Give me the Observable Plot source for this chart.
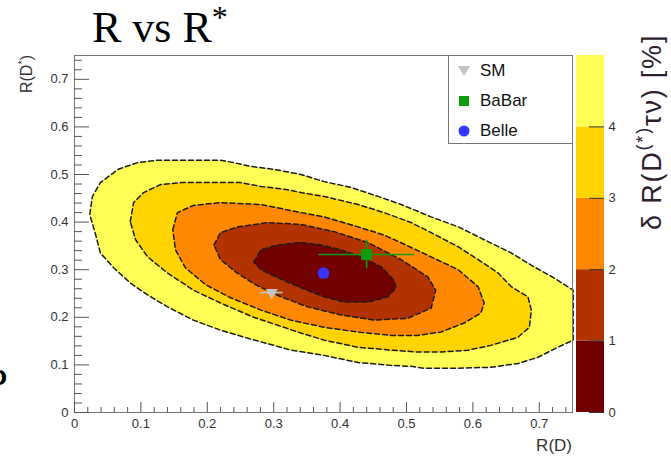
<!DOCTYPE html>
<html><head><meta charset="utf-8">
<script src="https://cdn.jsdelivr.net/npm/d3@7"></script>
<script src="https://cdn.jsdelivr.net/npm/@observablehq/plot@0.6"></script>
<style>
body{margin:0;background:#fff;}
#wrap{position:relative;width:671px;height:457px;overflow:hidden;font-family:"Liberation Sans",Arial,sans-serif;}
#cb{position:absolute;left:574px;top:0;}
#legend{position:absolute;left:448px;top:55px;width:123px;height:87px;border:1px solid #777;background:#fff;font-size:17px;color:#111;}
.row{position:absolute;left:0;height:20px;line-height:20px;}
.row svg{position:absolute;left:8px;top:3px;}
.row span{position:absolute;left:31px;top:0;}
</style></head>
<body><div id="wrap"></div>
<script>
// contour boundaries (R(D), R(D*)), outermost first
const contourL5 = [[0.023,0.416],[0.027,0.454],[0.039,0.483],[0.066,0.511],[0.095,0.525],[0.125,0.530],[0.220,0.530],[0.240,0.525],[0.265,0.517],[0.300,0.511],[0.341,0.500],[0.376,0.485],[0.416,0.473],[0.457,0.454],[0.492,0.437],[0.537,0.411],[0.578,0.390],[0.617,0.363],[0.658,0.335],[0.692,0.306],[0.722,0.283],[0.751,0.257],[0.751,0.152],[0.728,0.137],[0.698,0.116],[0.668,0.103],[0.627,0.095],[0.578,0.093],[0.526,0.093],[0.507,0.097],[0.477,0.099],[0.427,0.105],[0.376,0.120],[0.326,0.131],[0.300,0.141],[0.261,0.156],[0.220,0.173],[0.179,0.194],[0.140,0.222],[0.110,0.247],[0.084,0.272],[0.059,0.304],[0.039,0.335],[0.032,0.373]];
const contourL4 = [[0.084,0.401],[0.089,0.441],[0.104,0.462],[0.130,0.479],[0.160,0.483],[0.250,0.483],[0.281,0.475],[0.321,0.468],[0.341,0.462],[0.376,0.454],[0.427,0.437],[0.466,0.420],[0.507,0.399],[0.537,0.378],[0.578,0.348],[0.608,0.321],[0.638,0.293],[0.658,0.264],[0.683,0.243],[0.688,0.215],[0.685,0.179],[0.668,0.158],[0.627,0.141],[0.593,0.131],[0.552,0.127],[0.517,0.127],[0.477,0.131],[0.427,0.137],[0.376,0.152],[0.341,0.167],[0.270,0.200],[0.220,0.230],[0.179,0.257],[0.140,0.293],[0.110,0.327],[0.092,0.363]];
const contourL3 = [[0.148,0.384],[0.155,0.420],[0.179,0.435],[0.220,0.441],[0.281,0.437],[0.341,0.420],[0.376,0.411],[0.427,0.390],[0.466,0.373],[0.499,0.352],[0.537,0.327],[0.578,0.300],[0.608,0.264],[0.617,0.230],[0.612,0.209],[0.587,0.188],[0.552,0.169],[0.517,0.162],[0.477,0.162],[0.427,0.169],[0.376,0.179],[0.326,0.194],[0.281,0.215],[0.235,0.241],[0.198,0.268],[0.167,0.304],[0.152,0.342]];
const contourL2 = [[0.210,0.352],[0.220,0.378],[0.246,0.390],[0.291,0.399],[0.341,0.395],[0.391,0.380],[0.442,0.357],[0.492,0.321],[0.532,0.285],[0.544,0.257],[0.537,0.219],[0.502,0.198],[0.451,0.194],[0.401,0.205],[0.351,0.222],[0.311,0.243],[0.273,0.268],[0.243,0.295],[0.220,0.321]];
const contourL1 = [[0.270,0.316],[0.281,0.342],[0.306,0.352],[0.341,0.357],[0.371,0.352],[0.401,0.342],[0.431,0.327],[0.462,0.306],[0.481,0.278],[0.484,0.262],[0.472,0.243],[0.442,0.232],[0.406,0.232],[0.376,0.243],[0.341,0.262],[0.306,0.283],[0.281,0.300]];
const contourFills = ["#ffff55","#ffd400","#ff8800","#b33300","#730000"];

// measurements
const experiments = ["SM","BaBar","Belle"];
const rD = [0.297, 0.440, 0.375];
const rDstar = [0.252, 0.332, 0.293];
const rDerr = [0.017, 0.072, 0];
const rDstarErr = [0, 0.030, 0];
const expColors = ["#c4c4c4","#109a10","#3535ff"];

// axes
const xMajor = [0,0.1,0.2,0.3,0.4,0.5,0.6,0.7];
const xMinor = [0.02,0.04,0.06,0.08,0.12,0.14,0.16,0.18,0.22,0.24,0.26,0.28,0.32,0.34,0.36,0.38,0.42,0.44,0.46,0.48,0.52,0.54,0.56,0.58,0.62,0.64,0.66,0.68,0.72,0.74];
const yMajor = [0,0.1,0.2,0.3,0.4,0.5,0.6,0.7];
const yMinor = xMinor;

// color bar
const cbLow = [0,1,2,3,4];
const cbHigh = [1,2,3,4,5];
const cbColors = ["#730000","#b33300","#ff8800","#ffd400","#ffff55"];
const cbTicks = [0,1,2,3,4];

const contours = [contourL5, contourL4, contourL3, contourL2, contourL1];
const pts = experiments.map((e,i)=>({name:e, x:rD[i], y:rDstar[i], xe:rDerr[i], ye:rDstarErr[i], c:expColors[i]}));

const main = Plot.plot({
  width: 671, height: 457,
  marginLeft: 74, marginRight: 99, marginTop: 55, marginBottom: 45,
  x: {domain:[0,0.75], label:null}, y: {domain:[0,0.75], label:null},
  style: {fontFamily:'"Liberation Sans", Arial, sans-serif', fontSize:"13px", color:"#333", background:"transparent"},
  marks: [
    ...contours.map((c,i)=>Plot.line(c, {x:d=>d[0], y:d=>d[1], curve:"linear-closed", fill:contourFills[i], stroke:"#1c1c1c", strokeWidth:1.5, strokeDasharray:"5,3"})),
    Plot.frame({stroke:"#777"}),
    Plot.ruleX(xMajor, {x:d=>d, y1:0, y2:0, insetBottom:10, stroke:"#555"}),
    Plot.ruleX(xMinor, {x:d=>d, y1:0, y2:0, insetBottom:5, stroke:"#555"}),
    Plot.ruleY(yMajor, {y:d=>d, x1:0, x2:0, insetRight:-15, stroke:"#555"}),
    Plot.ruleY(yMinor, {y:d=>d, x1:0, x2:0, insetRight:-8, stroke:"#555"}),
    Plot.axisX({ticks:xMajor, tickSize:0, tickPadding:6, tickFormat:d=>String(d), fill:"#333", label:null}),
    Plot.axisY({ticks:yMajor, tickSize:0, tickPadding:6, tickFormat:d=>String(d), fill:"#333", label:null}),
    Plot.ruleY(pts.filter(d=>d.xe>0), {y:"y", x1:d=>d.x-d.xe, x2:d=>d.x+d.xe, stroke:"c", strokeWidth:1.6}),
    Plot.ruleX(pts.filter(d=>d.ye>0), {x:"x", y1:d=>d.y-d.ye, y2:d=>d.y+d.ye, stroke:"c", strokeWidth:1.6}),
    Plot.dot(pts.filter(d=>d.name==="SM"), {x:"x", y:"y", symbol:"triangle", rotate:180, r:4.5, fill:"c"}),
    Plot.dot(pts.filter(d=>d.name==="BaBar"), {x:"x", y:"y", symbol:"square", r:6.2, fill:"c"}),
    Plot.dot(pts.filter(d=>d.name==="Belle"), {x:"x", y:"y", symbol:"circle", r:5.8, fill:"c"})
  ]
});

const cb = Plot.plot({
  width: 97, height: 457,
  marginLeft: 2, marginRight: 67, marginTop: 55, marginBottom: 45,
  y: {domain:[0,5], label:null},
  style: {fontFamily:'"Liberation Sans", Arial, sans-serif', fontSize:"13px", color:"#333", background:"transparent"},
  marks: [
    Plot.rect(cbLow.map((lo,i)=>({lo, hi:cbHigh[i], c:cbColors[i]})), {y1:"lo", y2:"hi", fill:"c"}),
    Plot.ruleY(cbTicks, {y:d=>d, insetLeft:13, stroke:"#333"}),
    Plot.axisY({anchor:"right", ticks:cbTicks, tickSize:0, tickPadding:4, tickFormat:d=>String(d), fill:"#333", label:null})
  ]
});

const wrap = document.getElementById("wrap");
wrap.appendChild(main);
cb.id = "cb";
wrap.appendChild(cb);

const svg = d3.select(main);
// title
const t = svg.append("text").attr("x",92).attr("y",42).attr("text-anchor","start")
  .attr("font-family",'"Liberation Serif","Times New Roman",serif').attr("font-size",44).attr("fill","#000");
t.append("tspan").text("R vs R");
t.append("tspan").attr("font-size",32).attr("dy",-14).text("*");
// y title
const yt = svg.append("text").attr("transform","translate(32,55) rotate(-90)").attr("text-anchor","end")
  .attr("font-size",16).attr("fill","#333");
yt.append("tspan").text("R(D");
yt.append("tspan").attr("font-size",11).attr("dy",-6).text("*");
yt.append("tspan").attr("dy",6).text(")");
// x title
svg.append("text").attr("x",572).attr("y",451).attr("text-anchor","end").attr("font-size",17).attr("fill","#333").text("R(D)");
// stray glyph at left border
svg.append("text").attr("x",-10).attr("y",385).attr("text-anchor","start").attr("font-size",28).attr("font-weight","bold").attr("fill","#000").text("o");

// colour bar title
const ct = d3.select(cb).append("text").attr("transform","translate(87,230) rotate(-90)").attr("text-anchor","start")
  .attr("font-size",27).attr("letter-spacing",1.8).attr("fill","#2a2030");
ct.append("tspan").text("δ R(D");
ct.append("tspan").attr("font-size",18).attr("dy",-12).text("(*)");
ct.append("tspan").attr("dy",12).text("τν) [%]");

// legend
const lg = document.createElement("div");
lg.id = "legend";
const rows = [
  {name:"SM", y:5, sym:'<svg width="14" height="14"><polygon points="1,2 13,2 7,12" fill="#c4c4c4"/></svg>'},
  {name:"BaBar", y:35, sym:'<svg width="14" height="14"><rect x="2" y="2" width="10" height="10" fill="#109a10"/></svg>'},
  {name:"Belle", y:65, sym:'<svg width="14" height="14"><circle cx="7" cy="7" r="5.5" fill="#3535ff"/></svg>'}
];
lg.innerHTML = rows.map(r=>`<div class="row" style="top:${r.y}px">${r.sym}<span>${r.name}</span></div>`).join("");
wrap.appendChild(lg);
</script>
</body></html>
